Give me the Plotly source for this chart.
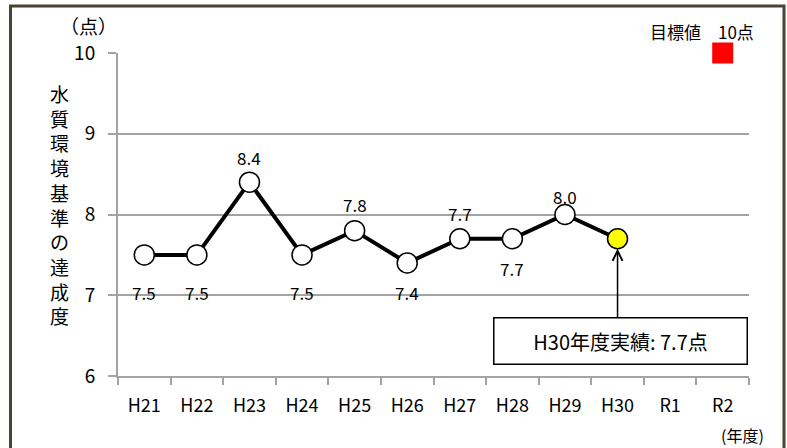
import plotly.graph_objects as go

# --- data ---------------------------------------------------------------
years = ["H21", "H22", "H23", "H24", "H25", "H26", "H27", "H28", "H29", "H30", "R1", "R2"]
scores = [7.5, 7.5, 8.4, 7.5, 7.8, 7.4, 7.7, 7.7, 8.0, 7.7]
target_year = "R2"
target_score = 10
y_ticks = [6, 7, 8, 9, 10]
y_title = "水質環境基準の達成度"
latest_note = "H30年度実績: 7.7点"

# --- styling ------------------------------------------------------------
W, H = 787, 448
L, R, T, B = 118, 38, 53, 72
FONT = "Noto Sans CJK JP, Noto Sans, sans-serif"
GRID = "#A3A3A3"

# vertical pixel shift of each value label (positive = above the marker)
label_shift = [-38, -38, 25, -38, 26, -30, 25, -30, 18, None]


def paper_x(px):
    return (px - L) / (W - L - R)


def paper_y(py):
    return (H - B - py) / (H - T - B)


n = len(scores)
marker_fill = ["white"] * (n - 1) + ["#FFFF00"]

fig = go.Figure()

fig.add_trace(go.Scatter(
    x=years[:n], y=scores, mode="lines+markers",
    line=dict(color="black", width=4),
    marker=dict(size=20, color=marker_fill, line=dict(color="black", width=1.5)),
    cliponaxis=False, showlegend=False, hoverinfo="x+y",
))

fig.add_trace(go.Scatter(
    x=[target_year], y=[target_score], mode="markers",
    marker=dict(symbol="square", size=21, color="#FF0000", line=dict(width=0)),
    cliponaxis=False, showlegend=False,
))

annotations = []

# value labels
for yr, v, dy in zip(years[:n], scores, label_shift):
    if dy is None:
        continue
    annotations.append(dict(
        x=yr, y=v, xref="x", yref="y", text=f"{v:.1f}", showarrow=False,
        yshift=dy, font=dict(size=17, color="black", family=FONT),
    ))

# arrow towards the latest year
annotations.append(dict(
    x=years[n - 1], y=scores[-1], xref="x", yref="y", text="",
    showarrow=True, ax=0, ay=80, axref="pixel", ayref="pixel",
    arrowhead=5, arrowsize=1.3, arrowwidth=1.5, arrowcolor="black", standoff=10,
))

# note box
annotations.append(dict(
    x=paper_x(620.5), y=paper_y(341), xref="paper", yref="paper",
    text=latest_note, showarrow=False, xanchor="center", yanchor="middle",
    width=252, height=45, borderpad=0, bordercolor="black", borderwidth=1.5,
    bgcolor="white", font=dict(size=20, color="black", family=FONT),
))

# target label
annotations.append(dict(
    x=paper_x(756), y=paper_y(31), xref="paper", yref="paper",
    text=f"目標値　{target_score}点", showarrow=False, xanchor="right", yanchor="middle",
    font=dict(size=17, color="black", family=FONT),
))

# unit labels
annotations.append(dict(
    x=paper_x(88), y=paper_y(26), xref="paper", yref="paper", text="（点）",
    showarrow=False, xanchor="center", yanchor="middle",
    font=dict(size=19, color="black", family=FONT),
))
annotations.append(dict(
    x=paper_x(766), y=paper_y(435), xref="paper", yref="paper", text="(年度)",
    showarrow=False, xanchor="right", yanchor="middle",
    font=dict(size=16, color="black", family=FONT),
))

# vertical axis title, stacked one character per line
annotations.append(dict(
    x=paper_x(59), y=paper_y(204), xref="paper", yref="paper",
    text="<br>".join(y_title), showarrow=False, xanchor="center", yanchor="middle",
    font=dict(size=19, color="black", family=FONT),
))

fig.update_layout(
    width=W, height=H,
    margin=dict(l=L, r=R, t=T, b=B, pad=0),
    paper_bgcolor="white", plot_bgcolor="white",
    font=dict(family=FONT, color="black"),
    annotations=annotations,
    shapes=[dict(
        type="rect", xref="paper", yref="paper",
        x0=paper_x(10.5), x1=paper_x(784), y0=paper_y(470), y1=paper_y(6),
        line=dict(color="#4B4331", width=3), layer="above",
    )],
    xaxis=dict(
        type="category", categoryorder="array", categoryarray=years,
        range=[-0.5, len(years) - 0.5], tickson="boundaries",
        showline=True, linecolor=GRID, linewidth=2,
        ticks="outside", ticklen=7, tickwidth=2, tickcolor=GRID,
        showgrid=False, ticklabelstandoff=12,
        tickfont=dict(size=18, color="black", family=FONT),
        fixedrange=True,
    ),
    yaxis=dict(
        range=[6, 10], tickvals=y_ticks,
        showline=True, linecolor=GRID, linewidth=2,
        ticks="outside", ticklen=8, tickwidth=2, tickcolor=GRID,
        showgrid=True, gridcolor=GRID, gridwidth=2, zeroline=False,
        ticklabelstandoff=9,
        tickfont=dict(size=19, color="black", family=FONT),
        fixedrange=True,
    ),
)

fig.write_html("out.html")
